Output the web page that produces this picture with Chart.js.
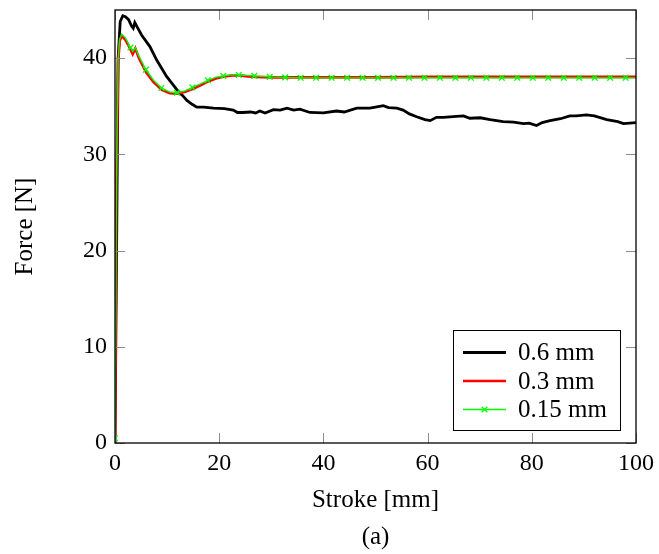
<!DOCTYPE html>
<html>
<head>
<meta charset="utf-8">
<script src="https://cdn.jsdelivr.net/npm/chart.js@4.4.0/dist/chart.umd.min.js"></script>
<style>
  body { margin: 0; background: #fff; }
  canvas { display: block; }
</style>
</head>
<body>
<canvas id="grafico" width="659" height="554"></canvas>
<script>
// Datos (Stroke en mm, Force en N)
const carrera06 = [0, 0.3, 0.6, 1.0, 1.5, 2.0, 2.6, 3.2, 3.5, 3.8, 4.3, 5.1, 6.7, 8.0, 9.9, 11.2, 12.2, 13.0, 13.8, 14.8,
  15.7, 17.0, 18.9, 21.0, 22.7, 23.5, 24.5, 26.0, 27.0, 27.8, 28.8, 30.4, 31.7, 33.0, 34.3, 35.5, 37.4, 40.0, 42.5, 44.0,
  46.4, 48.9, 50.0, 51.5, 52.5, 54.1, 55.3, 56.5, 57.9, 59.5, 60.5, 61.7, 63.0, 64.3, 65.5, 66.9, 68.1, 70.1, 72.0, 74.5,
  76.5, 78.4, 79.5, 80.9, 82.0, 83.5, 85.5, 87.3, 88.5, 90.5, 92.0, 94.4, 96.5, 97.6, 100];
const fuerza06 = [0, 20, 40, 43.8, 44.4, 44.3, 44.0, 43.3, 43.1, 43.7, 43.2, 42.4, 41.2, 39.8, 38.1, 37.2, 36.5, 36.1, 35.6, 35.2,
  34.9, 34.9, 34.8, 34.75, 34.6, 34.35, 34.35, 34.4, 34.3, 34.5, 34.3, 34.65, 34.6, 34.8, 34.6, 34.7, 34.35, 34.3, 34.5, 34.4,
  34.8, 34.8, 34.9, 35.05, 34.85, 34.8, 34.6, 34.2, 33.9, 33.6, 33.5, 33.85, 33.85, 33.9, 33.95, 34.0, 33.75, 33.8, 33.6, 33.4,
  33.35, 33.2, 33.25, 33.0, 33.3, 33.5, 33.7, 34.0, 34.0, 34.1, 34.0, 33.6, 33.4, 33.2, 33.3];

const carrera03 = [0, 0.3, 0.6, 0.9, 1.3, 2.0, 2.7, 3.4, 3.9, 4.6, 6.0, 7.4, 9.0, 10.5, 12.0, 13.5, 15.0, 16.5, 18.0, 19.5,
  21.0, 22.5, 24.0, 25.5, 27.0, 30, 35, 40, 50, 60, 70, 80, 90, 100];
const fuerza03 = [0, 28, 39.5, 41.8, 42.3, 41.9, 41.2, 40.4, 41.0, 40.0, 38.5, 37.5, 36.7, 36.35, 36.3, 36.5, 36.8, 37.2, 37.6, 37.9,
  38.1, 38.2, 38.2, 38.1, 38.05, 38.0, 38.0, 38.0, 38.0, 38.05, 38.05, 38.05, 38.05, 38.05];

const carrera015 = [0, 0.3, 0.6, 0.9, 1.3, 2.0, 2.97, 3.4, 3.9, 4.6, 5.94, 7.4, 8.91, 10.4, 11.88, 13.4, 14.85, 16.3, 17.82, 19.3,
  20.79, 22.3, 23.76, 25.2, 26.73, 29.7, 32.67, 35.64, 38.61, 41.58, 44.55, 47.52, 50.49, 53.46, 56.43, 59.4, 62.37, 65.34, 68.31, 71.28,
  74.25, 77.22, 80.19, 83.16, 86.13, 89.1, 92.07, 95.04, 98.01, 100];
const fuerza015 = [0.5, 28, 39.8, 42.0, 42.5, 42.1, 41.1, 40.7, 41.1, 40.2, 38.8, 37.7, 36.9, 36.5, 36.4, 36.6, 36.95, 37.3, 37.7, 38.0,
  38.15, 38.25, 38.25, 38.2, 38.15, 38.05, 38.0, 37.95, 37.95, 37.95, 37.95, 37.95, 37.95, 37.95, 37.95, 37.95, 37.95, 37.95, 37.95, 37.95,
  37.95, 37.95, 37.95, 37.95, 37.95, 37.95, 37.95, 37.95, 37.95, 37.95];

const etiquetas = ["0.6 mm", "0.3 mm", "0.15 mm"];
const ticksX = [0, 20, 40, 60, 80, 100];
const ticksY = [0, 10, 20, 30, 40];
const pasoMarca = 2.97; // las marcas de 0.15 mm van cada 2.97 mm

function unir(xs, ys) {
  return xs.map((x, i) => ({ x: x, y: ys[i] }));
}

// Marco del eje y marcas hacia dentro (estilo pgfplots)
const marcoPlugin = {
  id: "marco",
  afterDatasetsDraw(chart) {
    const { ctx, chartArea: a, scales } = chart;
    const largo = 10;
    ctx.save();
    ctx.strokeStyle = "#8c8c8c";
    ctx.lineWidth = 1;
    ctx.beginPath();
    for (const v of ticksX) {
      const px = Math.round(scales.x.getPixelForValue(v)) + 0.5;
      ctx.moveTo(px, a.bottom);
      ctx.lineTo(px, a.bottom - largo);
      ctx.moveTo(px, a.top);
      ctx.lineTo(px, a.top + largo);
    }
    for (const v of ticksY) {
      const py = Math.round(scales.y.getPixelForValue(v)) + 0.5;
      ctx.moveTo(a.left, py);
      ctx.lineTo(a.left + largo, py);
      ctx.moveTo(a.right, py);
      ctx.lineTo(a.right - largo, py);
    }
    ctx.stroke();
    ctx.strokeStyle = "#000";
    ctx.lineWidth = 1.3;
    ctx.strokeRect(a.left, a.top, a.right - a.left, a.bottom - a.top);
    ctx.restore();
  },
};

// Leyenda dentro del area, abajo a la derecha
const leyendaPlugin = {
  id: "leyenda",
  afterDraw(chart) {
    const ctx = chart.ctx;
    ctx.save();
    ctx.fillStyle = "#fff";
    ctx.fillRect(453.5, 330.5, 167, 100);
    ctx.strokeStyle = "#000";
    ctx.lineWidth = 1;
    ctx.strokeRect(453.5, 330.5, 167, 100);
    ctx.font = "25px 'Liberation Serif', serif";
    ctx.textBaseline = "middle";
    chart.data.datasets.forEach((ds, i) => {
      const y = 352.5 + i * 28.5;
      ctx.strokeStyle = ds.borderColor;
      ctx.lineWidth = ds.borderWidth;
      ctx.beginPath();
      ctx.moveTo(463, y);
      ctx.lineTo(506, y);
      ctx.stroke();
      if (ds.pointStyle === "crossRot") {
        Chart.helpers.drawPoint(ctx, { pointStyle: "crossRot", radius: 4, borderWidth: 1.2 }, 484.5, y);
      }
      ctx.fillStyle = "#000";
      ctx.fillText(ds.label, 518, y + 1);
    });
    ctx.restore();
  },
};

Chart.defaults.font.family = "'Liberation Serif', serif";
Chart.defaults.color = "#000";

new Chart(document.getElementById("grafico"), {
  type: "line",
  data: {
    datasets: [
      {
        label: etiquetas[0],
        data: unir(carrera06, fuerza06),
        borderColor: "#000",
        borderWidth: 2.8,
        pointRadius: 0,
        order: 2,
      },
      {
        label: etiquetas[1],
        data: unir(carrera03, fuerza03),
        borderColor: "#ff0000",
        borderWidth: 2.6,
        pointRadius: 0,
        order: 1,
      },
      {
        label: etiquetas[2],
        data: unir(carrera015, fuerza015),
        borderColor: "#00ff00",
        backgroundColor: "#00ff00",
        borderWidth: 1.3,
        pointStyle: "crossRot",
        pointBorderColor: "#00ff00",
        pointBorderWidth: 1.3,
        pointRadius: (c) => {
          const k = c.raw.x / pasoMarca;
          return Math.abs(k - Math.round(k)) < 0.01 ? 4 : 0;
        },
        order: 0,
      },
    ],
  },
  options: {
    responsive: false,
    animation: false,
    layout: { padding: { top: 10, right: 23, left: 0, bottom: 0 } },
    plugins: {
      legend: { display: false },
      tooltip: { enabled: false },
      title: {
        display: true,
        text: "(a)",
        position: "bottom",
        fullSize: false,
        font: { size: 25, weight: "normal" },
        padding: { top: 4, bottom: 2 },
      },
    },
    scales: {
      x: {
        type: "linear",
        min: 0,
        max: 100,
        grid: { display: false, drawTicks: false },
        border: { display: false },
        afterBuildTicks: (s) => { s.ticks = ticksX.map((v) => ({ value: v })); },
        ticks: { font: { size: 24 }, padding: 6, maxRotation: 0 },
        title: { display: true, text: "Stroke [mm]", font: { size: 25 }, padding: { top: 0, bottom: 3 } },
        afterFit: (s) => { s.height = 75; s.paddingLeft = 0; s.paddingRight = 0; },
      },
      y: {
        min: 0,
        max: 45,
        grid: { display: false, drawTicks: false },
        border: { display: false },
        afterBuildTicks: (s) => { s.ticks = ticksY.map((v) => ({ value: v })); },
        ticks: { font: { size: 24 }, padding: 8 },
        title: { display: true, text: "Force [N]", font: { size: 25 }, padding: { top: 10, bottom: 0 } },
        afterFit: (s) => { s.width = 115; s.paddingTop = 0; s.paddingBottom = 0; },
      },
    },
  },
  plugins: [marcoPlugin, leyendaPlugin],
});
</script>
</body>
</html>
